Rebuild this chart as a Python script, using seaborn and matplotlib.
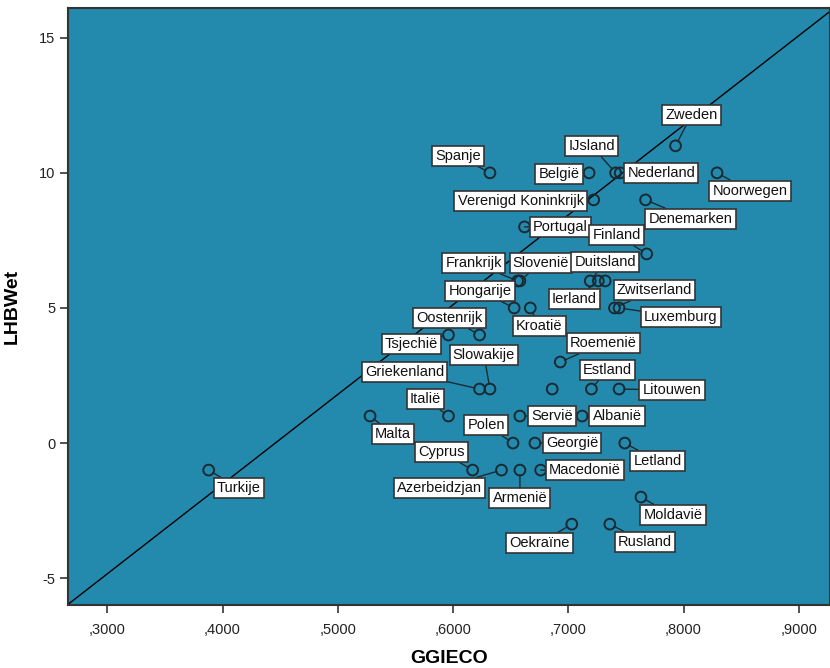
import matplotlib
matplotlib.use('Agg')
import numpy as np
import pandas as pd
import seaborn as sns
import matplotlib.pyplot as plt

# Data
landen = ['Zweden', 'Spanje', 'IJsland', 'België', 'Nederland', 'Noorwegen',
          'Verenigd Koninkrijk', 'Denemarken', 'Portugal', 'Finland',
          'Slovenië', 'Frankrijk', 'Duitsland', 'Ierland', None,
          'Hongarije', 'Kroatië', 'Zwitserland', 'Luxemburg',
          'Oostenrijk', 'Tsjechië', 'Roemenië',
          'Griekenland', 'Slowakije', None, 'Estland', 'Litouwen',
          'Malta', 'Italië', 'Servië', 'Albanië',
          'Polen', 'Georgië', 'Letland',
          'Turkije', 'Cyprus', 'Azerbeidzjan', 'Armenië', 'Macedonië',
          'Moldavië', 'Oekraïne', 'Rusland']
ggieco = [0.793, 0.632, 0.741, 0.718, 0.745, 0.829,
          0.722, 0.767, 0.662, 0.768,
          0.658, 0.656, 0.719, 0.726, 0.732,
          0.653, 0.667, 0.740, 0.744,
          0.623, 0.596, 0.693,
          0.623, 0.632, 0.686, 0.720, 0.744,
          0.528, 0.596, 0.658, 0.712,
          0.652, 0.671, 0.749,
          0.388, 0.617, 0.642, 0.658, 0.676,
          0.763, 0.703, 0.736]
lhbwet = [11, 10, 10, 10, 10, 10,
          9, 9, 8, 7,
          6, 6, 6, 6, 6,
          5, 5, 5, 5,
          4, 4, 3,
          2, 2, 2, 2, 2,
          1, 1, 1, 1,
          0, 0, 0,
          -1, -1, -1, -1, -1,
          -2, -3, -3]

# label offsets (pixels) from each point, None = no label
label_offsets = [(16, 31), (-32, 17), (-24, 27), (-30, -1), (41, 0), (33, -18),
                 (-73, -1), (45, -19), (36, 0), (-30, 19),
                 (21, 18), (-44, 18), (15, 19), (-24, -18), None,
                 (-34, 17), (9, -18), (40, 18), (62, -9),
                 (-30, 17), (-37, -9), (43, 19),
                 (-75, 17), (-6, 34), None, (16, 19), (53, -1),
                 (23, -18), (-23, 17), (32, 0), (35, 0),
                 (-27, 18), (37, 0), (33, -18),
                 (30, -18), (-31, 18), (-62, -18), (0, -28), (44, 0),
                 (32, -18), (-32, -19), (35, -18)]

ref_intercept = -14.8
ref_slope = 33.2

df = pd.DataFrame({'Land': landen, 'GGIECO': ggieco, 'LHBWet': lhbwet})

bg = '#248aad'
dark = '#1a2a33'

plt.rcParams['font.family'] = ['Liberation Sans', 'DejaVu Sans']

fig = plt.figure(figsize=(8.3, 6.68), dpi=100)
ax = fig.add_axes([0.082, 0.094, 0.918, 0.894])
ax.set_facecolor(bg)

ax.axline((0, ref_intercept), slope=ref_slope, color='black', lw=1.0, zorder=2)

sns.scatterplot(data=df, x='GGIECO', y='LHBWet', ax=ax, marker='o', s=60,
                fc='none', ec=dark, linewidth=1.4, zorder=3, legend=False)

for i, row in df.iterrows():
    off = label_offsets[i]
    if row['Land'] is None or off is None:
        continue
    ax.annotate(row['Land'], (row['GGIECO'], row['LHBWet']), xytext=off,
                textcoords='offset pixels', ha='center', va='center',
                fontsize=10.5, color='#111111', zorder=5,
                bbox=dict(boxstyle='square,pad=0.22', fc='white', ec='#333333', lw=1.2),
                arrowprops=dict(arrowstyle='-', color=dark, lw=1.0,
                                shrinkA=0, shrinkB=3.5))

ax.set_xlim(0.266, 0.927)
ax.set_ylim(-6.0, 16.1)
ax.set_xticks([0.3, 0.4, 0.5, 0.6, 0.7, 0.8, 0.9])
ax.set_xticklabels([',3000', ',4000', ',5000', ',6000', ',7000', ',8000', ',9000'])
ax.set_yticks([-5, 0, 5, 10, 15])
ax.set_yticklabels(['-5', '0', '5', '10', '15'])
ax.tick_params(axis='both', direction='out', length=6, width=1.2, color='#333333',
               labelsize=10.5, labelcolor='#222222', pad=3)
ax.tick_params(axis='x', pad=7)
for sp in ax.spines.values():
    sp.set_color('#333333')
    sp.set_linewidth(1.5)

ax.set_xlabel('GGIECO', fontsize=14, fontweight='bold', labelpad=9)
ax.set_ylabel('LHBWet', fontsize=14, fontweight='bold', labelpad=13)

fig.savefig('out.png', dpi=100, facecolor='white')
